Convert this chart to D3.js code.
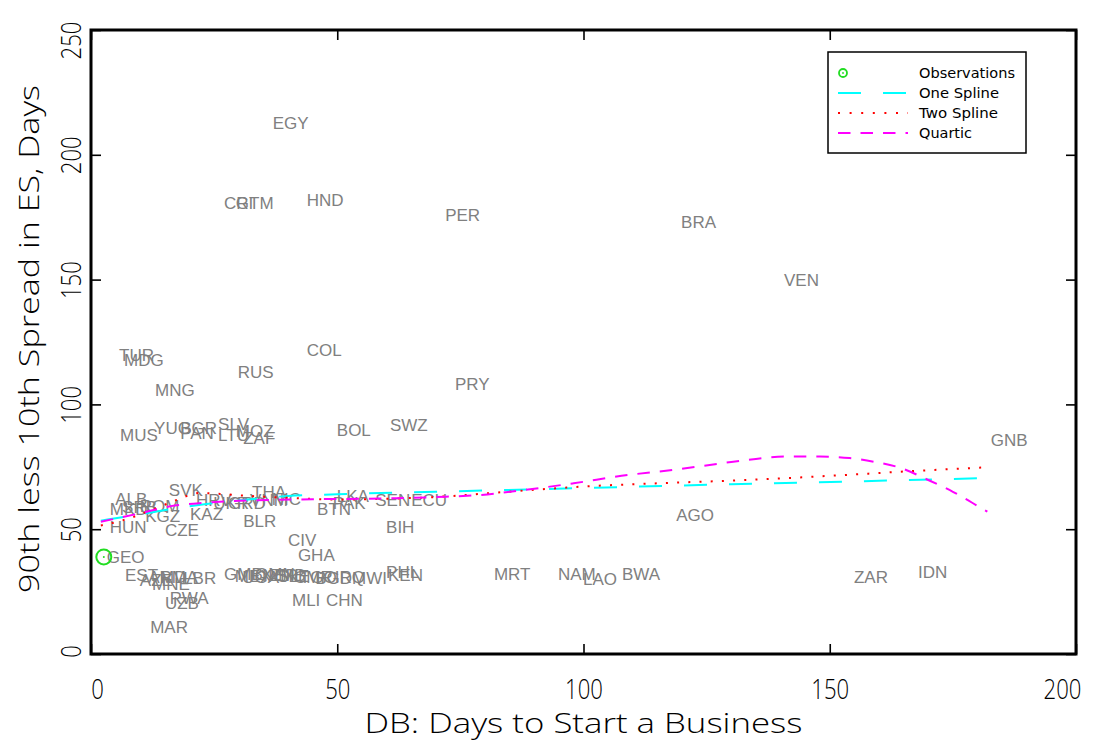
<!DOCTYPE html>
<html>
<head>
<meta charset="utf-8">
<script src="https://cdn.jsdelivr.net/npm/d3@7"></script>
<style>
  html, body { margin: 0; padding: 0; background: #fff; }
  svg { display: block; }
</style>
</head>
<body>
<div id="chart"></div>
<script>
// ---------------- data ----------------
const countries = ["EGY","CRI","GTM","HND","PER","BRA","VEN","TUR","MDG","MNG","RUS","COL","PRY","MUS","YUG","BGR","PAN","SLV","LTU","MOZ","ZAF","BOL","SWZ","GNB","SVK","ALB","MKD","SRB","ROM","KGZ","HUN","CZE","KAZ","HRV","UKR","GRD","VNM","NIC","THA","BLR","LKA","BTN","PAK","SEN","ECU","BIH","CIV","GHA","AGO","GEO","EST","AZE","ARM","MNE","MDA","LBR","UZB","RWA","MAR","GMB","MEX","UGA","OMN","NER","ZMB","SLE","CMR","TGO","BGD","IRQ","MWI","MLI","CHN","PHL","KEN","MRT","NAM","LAO","BWA","ZAR","IDN"];
const dbDays = [36.3,26.4,28.8,43.2,71.3,119.2,140.1,5.1,6.1,12.4,29.2,43.2,73.3,5.3,12.2,17.5,17.5,25.2,25.2,28.8,30.3,49.3,60.1,182.1,15.2,4.3,3.2,5.7,9.3,10.4,3.2,14.4,19.5,20.7,24.2,27.2,31.7,36.1,32.1,30.3,49.3,45.3,48.5,57.1,64.4,59.3,39.4,41.4,118.2,2.6,6.3,9.3,11.0,11.8,13.4,18.1,14.4,15.4,11.4,26.4,28.6,30.1,32.7,34.1,35.7,37.2,40.6,41.8,44.9,48.9,52.4,40.2,47.1,59.3,59.7,81.2,94.2,99.3,107.2,154.3,167.3];
const esSpread = [212.7,180.7,180.7,181.9,175.9,173.1,149.8,119.8,117.8,105.8,113.0,121.8,108.2,87.7,90.5,90.5,88.5,92.1,87.7,89.3,86.5,89.7,91.7,85.7,65.7,62.1,58.1,58.9,59.3,55.3,50.9,49.7,56.1,61.7,60.5,60.5,61.7,62.1,64.9,53.3,63.3,58.1,60.5,61.7,61.7,50.9,45.7,39.7,55.7,38.9,31.7,29.6,30.8,28.0,30.8,30.4,20.4,22.4,10.8,32.1,31.3,30.8,32.1,31.7,31.7,31.3,30.8,30.8,30.4,30.8,30.4,21.6,21.6,32.9,31.7,32.1,32.1,30.0,32.1,30.8,32.9];
const markedCountry = "GEO";

const oneSplineX = [2, 10, 20, 30, 40, 50, 70, 100, 130, 160, 182];
const oneSpline  = [53.4, 56.0, 59.2, 61.5, 63.3, 64.0, 65.0, 66.5, 68.0, 69.4, 70.5];

const twoSplineX = [2, 5, 8, 12, 16.5, 19, 22, 25, 30, 40, 50, 60, 70, 80, 90, 100, 118, 133, 152, 166, 182];
const twoSpline  = [51.5, 52.8, 54.5, 57.5, 61, 63, 64.5, 64.3, 63.6, 62.6, 61.9, 62.2, 62.9, 64.3, 65.8, 67.1, 68.6, 69.7, 71.6, 73.2, 74.8];

const quarticX = [2, 10, 17, 22, 30, 45, 62, 72, 79, 88, 98, 109, 118, 130, 141, 148, 154, 159, 164, 170, 175, 179, 182];
const quartic  = [53, 56.4, 59.5, 60.4, 61.4, 62, 62.4, 63, 63.7, 65.7, 68.4, 71.7, 73.7, 76.9, 79.1, 79.1, 78.5, 77, 74.8, 69.7, 65, 60.5, 57];

const xTicks = [0, 50, 100, 150, 200];
const yTicks = [0, 50, 100, 150, 200, 250];
const xTitle = "DB: Days to Start a Business";
const yTitle = "90th less 10th Spread in ES, Days";
const legendLabels = ["Observations", "One Spline", "Two Spline", "Quartic"];

// ---------------- layout ----------------
const W = 1104, H = 744;
const L = 91, R = 1076, T = 30, B = 654;
const tickFont = "'Open Sans', 'DejaVu Sans', sans-serif";

const svg = d3.select("#chart").append("svg").attr("width", W).attr("height", H);
svg.append("rect").attr("width", W).attr("height", H).attr("fill", "#fff");

const x = d3.scaleLinear().domain([0, 200]).range([L, R]);
const y = d3.scaleLinear().domain([0, 250]).range([B, T]);

// axes (ticks inside on all four sides)
const gx = svg.append("g").attr("transform", `translate(0,${B})`)
  .call(d3.axisBottom(x).tickValues(xTicks).tickSize(-10).tickFormat(d3.format("d")));
const gy = svg.append("g").attr("transform", `translate(${L},0)`)
  .call(d3.axisLeft(y).tickValues(yTicks).tickSize(-10).tickFormat(d3.format("d")));
const gxt = svg.append("g").attr("transform", `translate(0,${T})`)
  .call(d3.axisTop(x).tickValues(xTicks).tickSize(-10).tickFormat(""));
const gyr = svg.append("g").attr("transform", `translate(${R},0)`)
  .call(d3.axisRight(y).tickValues(yTicks).tickSize(-10).tickFormat(""));
[gx, gy, gxt, gyr].forEach(g => {
  g.select(".domain").remove();
  g.selectAll(".tick line").attr("stroke", "#000").attr("stroke-width", 1.6);
});

gx.selectAll(".tick text")
  .attr("y", 0).attr("dy", null)
  .attr("transform", d => `translate(${d === 0 ? 6 : (d === 200 ? -14 : 0)},45) scale(0.82,1)`)
  .attr("font-family", tickFont).attr("font-weight", 300)
  .attr("font-size", 27).attr("fill", "#000").attr("text-anchor", "middle");

gy.selectAll(".tick text")
  .attr("x", 0).attr("y", 0).attr("dy", null)
  .attr("transform", d => `translate(-10,${d === 250 ? 10 : (d === 0 ? -3 : 0)}) rotate(-90) scale(0.82,1)`)
  .attr("font-family", tickFont).attr("font-weight", 300)
  .attr("font-size", 27).attr("fill", "#000").attr("text-anchor", "middle");

// titles
svg.append("text")
  .attr("x", (L + R) / 2 + 0).attr("y", 733)
  .attr("text-anchor", "middle")
  .attr("font-family", tickFont).attr("font-weight", 300).attr("font-size", 27)
  .attr("textLength", 438).attr("lengthAdjust", "spacingAndGlyphs")
  .text(xTitle);
svg.append("text")
  .attr("transform", `translate(39,339) rotate(-90)`)
  .attr("text-anchor", "middle")
  .attr("font-family", tickFont).attr("font-weight", 300).attr("font-size", 27)
  .attr("textLength", 508).attr("lengthAdjust", "spacingAndGlyphs")
  .text(yTitle);

// country labels (placed to the right of each observation)
const obs = countries.map((c, i) => ({ c, x: dbDays[i], y: esSpread[i] }));
svg.append("g").selectAll("text").data(obs).join("text")
  .attr("x", d => x(d.x) + 3)
  .attr("y", d => y(d.y))
  .attr("dy", "0.36em")
  .attr("font-family", "'Liberation Sans', Arial, sans-serif")
  .attr("font-size", 17)
  .attr("fill", "#808080")
  .text(d => d.c);

// marked observation
const mk = obs.find(d => d.c === markedCountry);
svg.append("circle").attr("cx", x(mk.x)).attr("cy", y(mk.y)).attr("r", 7.5)
  .attr("fill", "none").attr("stroke", "#22dd22").attr("stroke-width", 2);
svg.append("circle").attr("cx", x(mk.x)).attr("cy", y(mk.y)).attr("r", 1)
  .attr("fill", "#22dd22");

// fitted lines
const line = d3.line().x(d => x(d[0])).y(d => y(d[1])).curve(d3.curveMonotoneX);
const series = [
  { xs: oneSplineX, ys: oneSpline, color: "#00ffff", dash: "23,22", cap: "butt" },
  { xs: twoSplineX, ys: twoSpline, color: "#ff0000", dash: "2,9.2", cap: "butt" },
  { xs: quarticX, ys: quartic, color: "#ff00ff", dash: "12.5,10", cap: "butt" }
];
series.forEach(s => {
  svg.append("path")
    .datum(s.xs.map((v, i) => [v, s.ys[i]]))
    .attr("d", line)
    .attr("fill", "none")
    .attr("stroke", s.color)
    .attr("stroke-width", 2)
    .attr("stroke-dasharray", s.dash)
    .attr("stroke-linecap", s.cap);
});

// frame
svg.append("rect").attr("x", L).attr("y", T).attr("width", R - L).attr("height", B - T)
  .attr("fill", "none").attr("stroke", "#000").attr("stroke-width", 3);

// legend
const lg = svg.append("g");
lg.append("rect").attr("x", 828).attr("y", 52).attr("width", 198).attr("height", 101)
  .attr("fill", "#fff").attr("stroke", "#000").attr("stroke-width", 1.5);
const rowY = [73, 93, 113, 133];
const textLens = [96, 80, 79, 53];
legendLabels.forEach((t, i) => {
  lg.append("text").attr("x", 919).attr("y", rowY[i]).attr("dy", "0.36em")
    .attr("font-family", "'DejaVu Sans', sans-serif").attr("font-size", 14)
    .attr("textLength", textLens[i]).attr("lengthAdjust", "spacingAndGlyphs")
    .attr("fill", "#000").text(t);
});
lg.append("circle").attr("cx", 843).attr("cy", rowY[0]).attr("r", 4)
  .attr("fill", "none").attr("stroke", "#22dd22").attr("stroke-width", 1.8);
lg.append("circle").attr("cx", 843).attr("cy", rowY[0]).attr("r", 0.9).attr("fill", "#22dd22");
series.forEach((s, i) => {
  lg.append("line").attr("x1", 838).attr("x2", 908).attr("y1", rowY[i + 1]).attr("y2", rowY[i + 1])
    .attr("stroke", s.color).attr("stroke-width", 2)
    .attr("stroke-dasharray", i === 1 ? "2,9.6" : s.dash);
});
</script>
</body>
</html>
